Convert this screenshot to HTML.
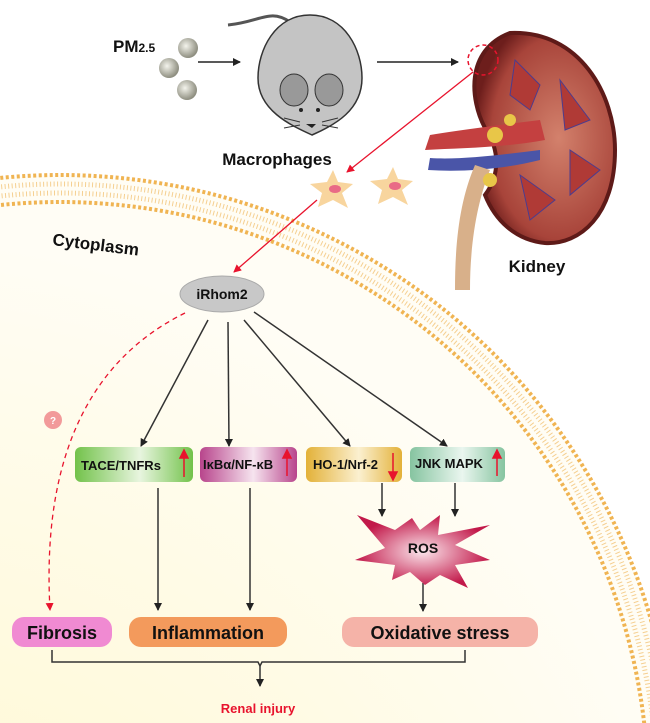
<!DOCTYPE html>
<html><head><meta charset="utf-8"><style>
html,body{margin:0;padding:0;background:#fff;width:650px;height:723px;overflow:hidden}
svg{display:block}
text{font-family:"Liberation Sans",Arial,sans-serif;font-weight:bold}
</style></head><body>
<svg width="650" height="723" viewBox="0 0 650 723" xmlns="http://www.w3.org/2000/svg">
<defs>
<radialGradient id="cyt" cx="0.35" cy="0.75" r="0.7">
<stop offset="0" stop-color="#fff6c8"/><stop offset="0.7" stop-color="#fffbe6"/><stop offset="1" stop-color="#fffdf5"/>
</radialGradient>
<radialGradient id="sph" cx="0.4" cy="0.4" r="0.6"><stop offset="0" stop-color="#f4f4ec"/><stop offset="1" stop-color="#8e8e80"/></radialGradient>
<linearGradient id="g1" x1="0" x2="1"><stop offset="0" stop-color="#72c24a"/><stop offset="0.55" stop-color="#e8f5df"/><stop offset="1" stop-color="#72c24a"/></linearGradient>
<linearGradient id="g2" x1="0" x2="1"><stop offset="0" stop-color="#b8458c"/><stop offset="0.55" stop-color="#f6e4ef"/><stop offset="1" stop-color="#b8458c"/></linearGradient>
<linearGradient id="g3" x1="0" x2="1"><stop offset="0" stop-color="#e3b138"/><stop offset="0.55" stop-color="#fbf0d0"/><stop offset="1" stop-color="#e3b138"/></linearGradient>
<linearGradient id="g4" x1="0" x2="1"><stop offset="0" stop-color="#86c4a0"/><stop offset="0.55" stop-color="#eaf6ef"/><stop offset="1" stop-color="#86c4a0"/></linearGradient>
<radialGradient id="ros" cx="0.5" cy="0.5" r="0.5"><stop offset="0" stop-color="#fbe6ec"/><stop offset="1" stop-color="#c2194a"/></radialGradient>
<radialGradient id="kid" cx="0.6" cy="0.5" r="0.6"><stop offset="0" stop-color="#d3816c"/><stop offset="0.8" stop-color="#a8443a"/><stop offset="1" stop-color="#6d1e1c"/></radialGradient>
<marker id="ah" markerWidth="8" markerHeight="8" refX="7" refY="4" orient="auto" markerUnits="userSpaceOnUse"><path d="M0,0L8,4L0,8z" fill="#222"/></marker>
<marker id="ar" markerWidth="8" markerHeight="8" refX="7" refY="4" orient="auto" markerUnits="userSpaceOnUse"><path d="M0,0L8,4L0,8z" fill="#e8132d"/></marker>
</defs>
<circle cx="60" cy="790" r="615" fill="url(#cyt)"/>
<circle cx="60" cy="790" r="615" fill="none" stroke="#f0b452" stroke-width="4" stroke-dasharray="3 2.5"/>
<circle cx="60" cy="790" r="606" fill="none" stroke="#f5cf90" stroke-width="5" stroke-dasharray="1 2.5"/>
<circle cx="60" cy="790" r="597" fill="none" stroke="#f5cf90" stroke-width="5" stroke-dasharray="1 2.5"/>
<circle cx="60" cy="790" r="588" fill="none" stroke="#f0b452" stroke-width="4" stroke-dasharray="3 2.5"/>
<text x="113" y="52" font-size="17" fill="#111">PM<tspan font-size="12">2.5</tspan></text>
<circle cx="188" cy="48" r="10" fill="url(#sph)"/>
<circle cx="169" cy="68" r="10" fill="url(#sph)"/>
<circle cx="187" cy="90" r="10" fill="url(#sph)"/>
<line x1="198" y1="62" x2="240" y2="62" stroke="#222" stroke-width="1.5" marker-end="url(#ah)"/>
<path d="M290,22 C270,8 260,22 228,25" fill="none" stroke="#555" stroke-width="3"/>
<path d="M310,15 C345,15 362,50 362,78 C362,110 335,125 312,135 C290,125 258,110 258,78 C258,50 275,15 310,15z" fill="#c4c4c4" stroke="#333" stroke-width="1.5"/>
<ellipse cx="294" cy="90" rx="14" ry="16" fill="#999" stroke="#333"/>
<ellipse cx="329" cy="90" rx="14" ry="16" fill="#999" stroke="#333"/>
<circle cx="301" cy="110" r="2" fill="#222"/><circle cx="318" cy="110" r="2" fill="#222"/>
<path d="M306,124 L312,128 L316,124z" fill="#222"/>
<path d="M300,122 L284,118 M300,125 L284,128 M322,122 L338,118 M322,125 L338,128" stroke="#333"/>
<line x1="377" y1="62" x2="458" y2="62" stroke="#222" stroke-width="1.5" marker-end="url(#ah)"/>
<!-- kidney -->
<path d="M510,33 C580,30 615,95 615,150 C615,215 580,245 545,243 C515,240 495,220 485,195 C500,175 500,150 485,128 C470,100 465,50 510,33z" fill="url(#kid)" stroke="#5e1a18" stroke-width="4"/>
<path d="M515,60 L540,85 L530,110 L510,95z M560,80 L590,120 L565,130z M570,150 L600,170 L570,195z M520,175 L555,200 L530,220z" fill="#b03a36" stroke="#4b3c8f" stroke-width="1"/>
<path d="M540,120 C500,125 460,130 430,135 L425,150 C460,148 500,148 545,140z" fill="#c44040"/>
<path d="M540,150 C500,155 460,160 430,158 L428,170 C460,172 500,170 540,160z" fill="#4a55a8"/>
<path d="M490,170 C478,200 470,240 470,290 L455,290 C455,240 460,200 475,165z" fill="#d8b08a"/>
<circle cx="495" cy="135" r="8" fill="#e8c648"/><circle cx="490" cy="180" r="7" fill="#e8c648"/><circle cx="510" cy="120" r="6" fill="#e8c648"/>
<circle cx="483" cy="60" r="15" fill="none" stroke="#e8132d" stroke-width="1.5" stroke-dasharray="4 3"/>
<line x1="473" y1="72" x2="347" y2="172" stroke="#e8132d" stroke-width="1.3" marker-end="url(#ar)"/>
<text x="277" y="165" font-size="17" fill="#111" text-anchor="middle">Macrophages</text>
<text x="537" y="272" font-size="17" fill="#111" text-anchor="middle">Kidney</text>
<g fill="#f8d59e">
<path d="M333,170 L338,182 L353,184 L342,193 L348,208 L333,200 L318,207 L322,193 L310,184 L327,182z"/>
<path d="M393,167 L398,179 L413,181 L402,190 L408,205 L393,197 L378,204 L382,190 L370,181 L387,179z"/>
</g>
<ellipse cx="335" cy="189" rx="6" ry="4" fill="#e96a86"/><ellipse cx="395" cy="186" rx="6" ry="4" fill="#e96a86"/>
<line x1="317" y1="200" x2="234" y2="272" stroke="#e8132d" stroke-width="1.3" marker-end="url(#ar)"/>
<text x="52" y="245" font-size="17" fill="#111" transform="rotate(7 52 245)">Cytoplasm</text>
<ellipse cx="222" cy="294" rx="42" ry="18" fill="#c8c8c8" stroke="#aaa"/>
<text x="222" y="299" font-size="14" fill="#111" text-anchor="middle">iRhom2</text>
<g stroke="#333" stroke-width="1.5" fill="none">
<line x1="208" y1="320" x2="141" y2="446" marker-end="url(#ah)"/>
<line x1="228" y1="322" x2="229" y2="446" marker-end="url(#ah)"/>
<line x1="244" y1="320" x2="350" y2="446" marker-end="url(#ah)"/>
<line x1="254" y1="312" x2="447" y2="446" marker-end="url(#ah)"/>
<line x1="158" y1="488" x2="158" y2="610" marker-end="url(#ah)"/>
<line x1="250" y1="488" x2="250" y2="610" marker-end="url(#ah)"/>
<line x1="382" y1="483" x2="382" y2="516" marker-end="url(#ah)"/>
<line x1="455" y1="483" x2="455" y2="516" marker-end="url(#ah)"/>
<line x1="423" y1="583" x2="423" y2="611" marker-end="url(#ah)"/>
<path d="M52,650 V662 H258 L260,666 L262,662 H465 V650"/>
<line x1="260" y1="666" x2="260" y2="686" marker-end="url(#ah)"/>
</g>
<path d="M185,313 C110,350 40,430 50,610" fill="none" stroke="#e8132d" stroke-width="1.3" stroke-dasharray="5 4" marker-end="url(#ar)"/>
<circle cx="53" cy="420" r="9" fill="#f29a9a"/>
<text x="53" y="424" font-size="10" fill="#fff" text-anchor="middle">?</text>
<rect x="75" y="447" width="118" height="35" rx="6" fill="url(#g1)"/>
<rect x="200" y="447" width="97" height="35" rx="6" fill="url(#g2)"/>
<rect x="306" y="447" width="96" height="35" rx="6" fill="url(#g3)"/>
<rect x="410" y="447" width="95" height="35" rx="6" fill="url(#g4)"/>
<g font-size="13" fill="#111"><text x="81" y="470">TACE/TNFRs</text><text x="203" y="469">IκBα/NF-κB</text><text x="313" y="469">HO-1/Nrf-2</text><text x="415" y="468">JNK MAPK</text></g>
<g stroke="#e8132d" stroke-width="1.5" fill="#e8132d">
<line x1="184" y1="477" x2="184" y2="456"/><path d="M180,458 L184,450 L188,458z"/>
<line x1="287" y1="476" x2="287" y2="456"/><path d="M283,458 L287,450 L291,458z"/>
<line x1="393" y1="453" x2="393" y2="474"/><path d="M389,472 L393,480 L397,472z"/>
<line x1="497" y1="476" x2="497" y2="456"/><path d="M493,458 L497,450 L501,458z"/>
</g>
<path d="M357,515 L395,530 L412,518 L420,530 L440,515 L438,535 L490,525 L455,545 L490,560 L455,565 L468,588 L440,575 L425,585 L410,572 L392,580 L395,565 L355,560 L385,548z" fill="url(#ros)"/>
<text x="423" y="553" font-size="14" fill="#111" text-anchor="middle">ROS</text>
<rect x="12" y="617" width="100" height="30" rx="12" fill="#f08ad2"/>
<rect x="129" y="617" width="158" height="30" rx="12" fill="#f39a5c"/>
<rect x="342" y="617" width="196" height="30" rx="12" fill="#f5b3a8"/>
<g font-size="18" fill="#111" text-anchor="middle"><text x="62" y="639">Fibrosis</text><text x="208" y="639">Inflammation</text><text x="440" y="639">Oxidative stress</text></g>
<text x="258" y="713" font-size="13" fill="#e8132d" text-anchor="middle">Renal injury</text>
</svg>
</body></html>
